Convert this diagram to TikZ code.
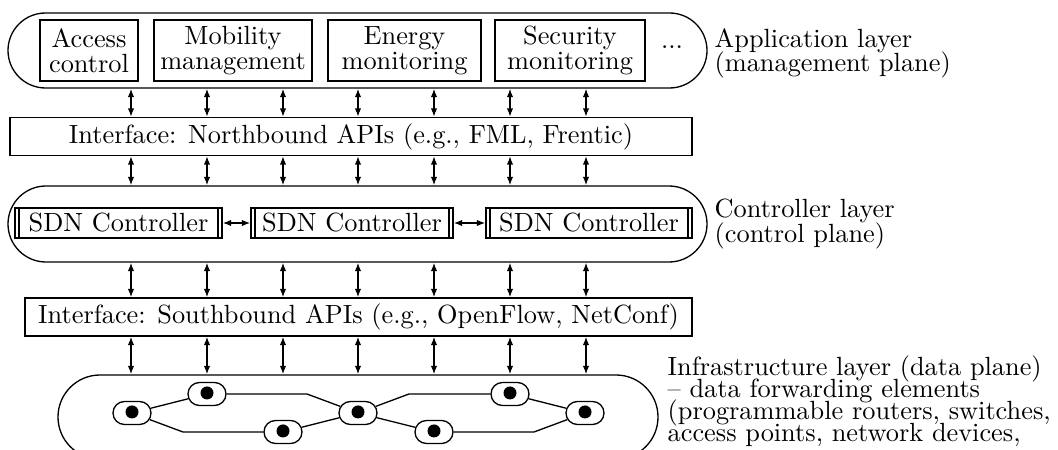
\documentclass[tikz,border=0pt]{standalone}
\usepackage{amsmath}
\usetikzlibrary{shapes.misc,arrows.meta}
\newcommand{\unitpx}{0.38pt}

\begin{document}
\begin{tikzpicture}[x=\unitpx, y=-\unitpx, line width=0.5pt, >={Latex[length=3.2pt,width=2.4pt]},
  layer/.style={draw, rounded rectangle, inner sep=0pt},
  apibox/.style={draw, inner sep=0pt, minimum height=38*\unitpx},
  appbox/.style={draw, align=center, inner sep=0pt, minimum height=61*\unitpx,
    font={\fontsize{10}{9.4}\selectfont\lineskiplimit=-5pt}},
  ctrlbox/.style={draw, inner sep=0pt, minimum height=30*\unitpx,
    path picture={
      \draw ([xshift=4*\unitpx]path picture bounding box.north west) -- ([xshift=4*\unitpx]path picture bounding box.south west);
      \draw ([xshift=-4*\unitpx]path picture bounding box.north east) -- ([xshift=-4*\unitpx]path picture bounding box.south east);}},
  dev/.style={draw, rounded rectangle, inner sep=0pt, minimum width=38*\unitpx, minimum height=23*\unitpx,
    path picture={\fill ([yshift=0.4pt]path picture bounding box.center) circle (6.5*\unitpx);}},
  side/.style={anchor=west, inner sep=0pt, align=left, font={\fontsize{10}{9.2}\selectfont\lineskiplimit=-5pt}}]
\useasboundingbox (0,0) rectangle (1058,450);
\clip (0,0) rectangle (1058,450);

\node[layer, minimum width=699*\unitpx, minimum height=75*\unitpx] (app) at (357.5,50.5) {};
\node[appbox, minimum width=98*\unitpx] (acc) at (89,50.5) {Access\\control};
\node[appbox, minimum width=158*\unitpx] (mob) at (233,50.5) {Mobility\\management};
\node[appbox, minimum width=153*\unitpx] (ener) at (404.5,50.5) {Energy\\monitoring};
\node[appbox, minimum width=150*\unitpx] (sec) at (570,50.5) {Security\\monitoring};
\node (more) at (672,47) {...};
\node[side] (applbl) at (714,53) {Application layer\\(management plane)};

\node[apibox, minimum width=682*\unitpx] (nb) at (351,136.5) {Interface: Northbound APIs (e.g., FML, Frentic)};

\node[layer, minimum width=699*\unitpx, minimum height=76*\unitpx] (ctrl) at (357.5,224) {};
\node[ctrlbox, minimum width=207*\unitpx] (c1) at (118.5,223) {SDN Controller};
\node[ctrlbox, minimum width=202*\unitpx] (c2) at (352,223) {SDN Controller};
\node[ctrlbox, minimum width=206*\unitpx] (c3) at (589,223) {SDN Controller};
\node[side] (ctrllbl) at (714,224) {Controller layer\\(control plane)};
\draw[<->] (c1) -- (c2);
\draw[<->] (c2) -- (c3);

\node[apibox, minimum width=667*\unitpx] (sb) at (358.5,317) {Interface: Southbound APIs (e.g., OpenFlow, NetConf)};

\node[layer, minimum width=600*\unitpx, minimum height=84*\unitpx] (infra) at (358,417) {};
\node[side, anchor=north west, font={\fontsize{10}{8.4}\selectfont\lineskiplimit=-5pt}] (infralbl) at (667,355)
  {Infrastructure layer (data plane)\\-- data forwarding elements\\(programmable routers, switches,\\access points, network devices,};

\node[dev] (d1) at (132,413) {};
\node[dev] (d2) at (207,394) {};
\node[dev] (d3) at (283,432) {};
\node[dev] (d4) at (358,413) {};
\node[dev] (d5) at (434,432) {};
\node[dev] (d6) at (510,394) {};
\node[dev] (d7) at (585,413) {};
\coordinate (b13) at (183,432);
\coordinate (b24) at (307,394);
\coordinate (b46) at (409,394);
\coordinate (b57) at (534,432);
\draw (d1) -- (d2);
\draw (d1) -- (b13) -- (d3);
\draw (d2) -- (b24) -- (d4);
\draw (d3) -- (d4);
\draw (d4) -- (b46) -- (d6);
\draw (d4) -- (d5);
\draw (d5) -- (b57) -- (d7);
\draw (d6) -- (d7);

\foreach \x in {131,207,283,358,434,510,586}
{   \draw[<->] (\x,0 |- app.south) -- (\x,0 |- nb.north);
    \draw[<->] (\x,0 |- nb.south) -- (\x,0 |- ctrl.north);
    \draw[<->] (\x,0 |- ctrl.south) -- (\x,0 |- sb.north);
    \draw[<->] (\x,0 |- sb.south) -- (\x,0 |- infra.north);
}
\end{tikzpicture}
\end{document}
